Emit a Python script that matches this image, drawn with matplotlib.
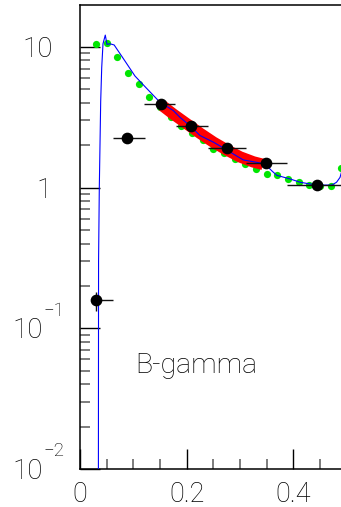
import matplotlib
matplotlib.use('Agg')
import matplotlib.pyplot as plt
from matplotlib import font_manager as fm
from matplotlib import transforms as mtrans
from matplotlib.ticker import FixedLocator, FixedFormatter, LogLocator, MultipleLocator, NullFormatter

# ---------------- data ----------------
# theory curve (blue)
blue_x = [0.0343, 0.0348, 0.0362, 0.0388, 0.0407, 0.0431, 0.0474, 0.0506, 0.056, 0.064,
          0.084, 0.103, 0.122, 0.15, 0.1625, 0.175, 0.1875, 0.206, 0.225, 0.25, 0.272,
          0.2875, 0.306, 0.331, 0.347, 0.359, 0.369, 0.394, 0.4125, 0.431, 0.45, 0.472,
          0.481, 0.4875, 0.495, 0.5]
blue_y = [0.001, 0.3, 1.0, 4.1, 7.1, 10.5, 12.1, 10.4, 10.5, 10.3,
          7.95, 6.2, 5.2, 4.03, 3.77, 3.52, 3.15, 2.75, 2.34, 2.10, 1.88,
          1.73, 1.57, 1.51, 1.47, 1.32, 1.22, 1.15, 1.09, 1.06, 1.04, 1.04,
          1.09, 1.18, 1.5, 2.0]

# green dots
green_x = [0.03, 0.05, 0.07, 0.09, 0.11, 0.13, 0.15, 0.17, 0.19, 0.21, 0.23, 0.25,
           0.27, 0.29, 0.31, 0.33, 0.35, 0.37, 0.39, 0.41, 0.43, 0.45, 0.47, 0.49]
green_y = [10.45, 10.6, 8.4, 6.5, 5.4, 4.37, 3.75, 3.15, 2.75, 2.45, 2.17, 1.89,
           1.75, 1.59, 1.48, 1.36, 1.24, 1.22, 1.15, 1.10, 1.04, 1.03, 1.03, 1.37]

# red band (fit)
red_x = [0.155, 0.175, 0.2, 0.225, 0.25, 0.275, 0.3, 0.325, 0.343]
red_y = [3.8, 3.32, 2.84, 2.43, 2.1, 1.85, 1.65, 1.52, 1.46]

# black data points
pt_x = [0.0306, 0.089, 0.151, 0.209, 0.275, 0.349, 0.444]
pt_y = [0.158, 2.25, 3.9, 2.72, 1.90, 1.50, 1.05]
pt_xlo = [0.02, 0.061, 0.12, 0.18, 0.24, 0.311, 0.389]
pt_xhi = [0.061, 0.121, 0.179, 0.24, 0.311, 0.389, 0.5]
pt_ylo = [0.133, 2.25, 3.9, 2.72, 1.90, 1.50, 1.05]
pt_yhi = [0.181, 2.25, 3.9, 2.72, 1.90, 1.50, 1.05]

xtick_vals = [0, 0.2, 0.4]
xtick_labels = ['0', '0.2', '0.4']
ytick_vals = [0.01, 0.1, 1, 10]
ytick_bases = ['10', '10', '1', '10']
ytick_exps = ['\u22122', '\u22121', '', '']
label_text = 'B-gamma'


# ---------------- font ----------------
def pick_font():
    cands = ['Roboto', 'Lato', 'Open Sans', 'Noto Sans', 'Inter', 'DejaVu Sans']
    for c in cands:
        ws = []
        for f in fm.fontManager.ttflist:
            if f.name == c:
                w = f.weight
                if not isinstance(w, int):
                    try:
                        w = int(w)
                    except Exception:
                        w = fm.weight_dict.get(w, 400)
                ws.append(w)
        light = [w for w in ws if 250 <= w <= 350]
        if light:
            return c, 'light'
    return 'DejaVu Sans', 'normal'


fam, wt = pick_font()
plt.rcParams['font.family'] = [fam, 'DejaVu Sans']
plt.rcParams['font.weight'] = wt

# ---------------- figure ----------------
W, H = 341, 507
fig = plt.figure(figsize=(W / 100, H / 100), dpi=100)
left_px, right_px, top_px, bot_px = 80, 80 + 266.7, 5, 469
ax_w_px = right_px - left_px
ax = fig.add_axes([left_px / W, (H - bot_px) / H, ax_w_px / W, (bot_px - top_px) / H])

ax.set_yscale('log')
ax.set_xlim(0, 0.5)
ax.set_ylim(0.01, 19.8)

ax.plot(green_x, green_y, 'o', color='#00e600', markersize=5.2, markeredgewidth=0, zorder=2)
ax.plot(red_x, red_y, '-', color='#ff0000', linewidth=8.2, solid_capstyle='butt', zorder=3)
ax.plot(blue_x, blue_y, '-', color='#0000ff', linewidth=0.8, zorder=4)

xerr = [[c - lo for c, lo in zip(pt_x, pt_xlo)], [hi - c for c, hi in zip(pt_x, pt_xhi)]]
yerr = [[c - lo for c, lo in zip(pt_y, pt_ylo)], [hi - c for c, hi in zip(pt_y, pt_yhi)]]
ax.errorbar(pt_x, pt_y, xerr=xerr, yerr=yerr, fmt='o', color='black', ecolor='#111111',
            elinewidth=1.0, markersize=7.4, capsize=0, zorder=5)

ax.text(0.103, 0.048, label_text, fontsize=20.5, ha='left', va='baseline', zorder=6)

# ticks
ax.xaxis.set_major_locator(FixedLocator(xtick_vals))
ax.xaxis.set_major_formatter(FixedFormatter(xtick_labels))
ax.xaxis.set_minor_locator(MultipleLocator(0.05))
ax.yaxis.set_major_locator(FixedLocator(ytick_vals))
ax.yaxis.set_major_formatter(NullFormatter())
ax.yaxis.set_minor_locator(LogLocator(base=10, subs=(2, 3, 4, 5, 6, 7, 8, 9)))
ax.yaxis.set_minor_formatter(NullFormatter())

ax.tick_params(axis='both', which='major', direction='in', length=14.4, width=1.0,
               color='black', labelsize=19.5)
ax.tick_params(axis='both', which='minor', direction='in', length=7.4, width=1.2,
               color='#666666')
ax.tick_params(axis='x', which='major', pad=8.3)

# y tick labels drawn as text at the tick values (ROOT-like 10^n layout)
blend = mtrans.blended_transform_factory(ax.transAxes, ax.transData)


def px_off(dx, dy):
    return mtrans.ScaledTranslation(dx / 100, dy / 100, fig.dpi_scale_trans)


for val, base, ex in zip(ytick_vals, ytick_bases, ytick_exps):
    if ex:
        ax.text((43 - left_px) / ax_w_px, val, base, fontsize=20, ha='right', va='baseline',
                transform=blend + px_off(0, -10), clip_on=False)
        ax.text((43.5 - left_px) / ax_w_px, val, ex, fontsize=13.5, ha='left', va='baseline',
                transform=blend + px_off(0, 12.5), clip_on=False)
    else:
        xc = 37.5 if len(base) > 1 else 44
        ax.text((xc - left_px) / ax_w_px, val, base, fontsize=20, ha='center', va='baseline',
                transform=blend + px_off(0, -10), clip_on=False)

ax.spines['right'].set_visible(False)
for s in ('left', 'top', 'bottom'):
    ax.spines[s].set_linewidth(1.1)

fig.savefig('out.png', dpi=100)
